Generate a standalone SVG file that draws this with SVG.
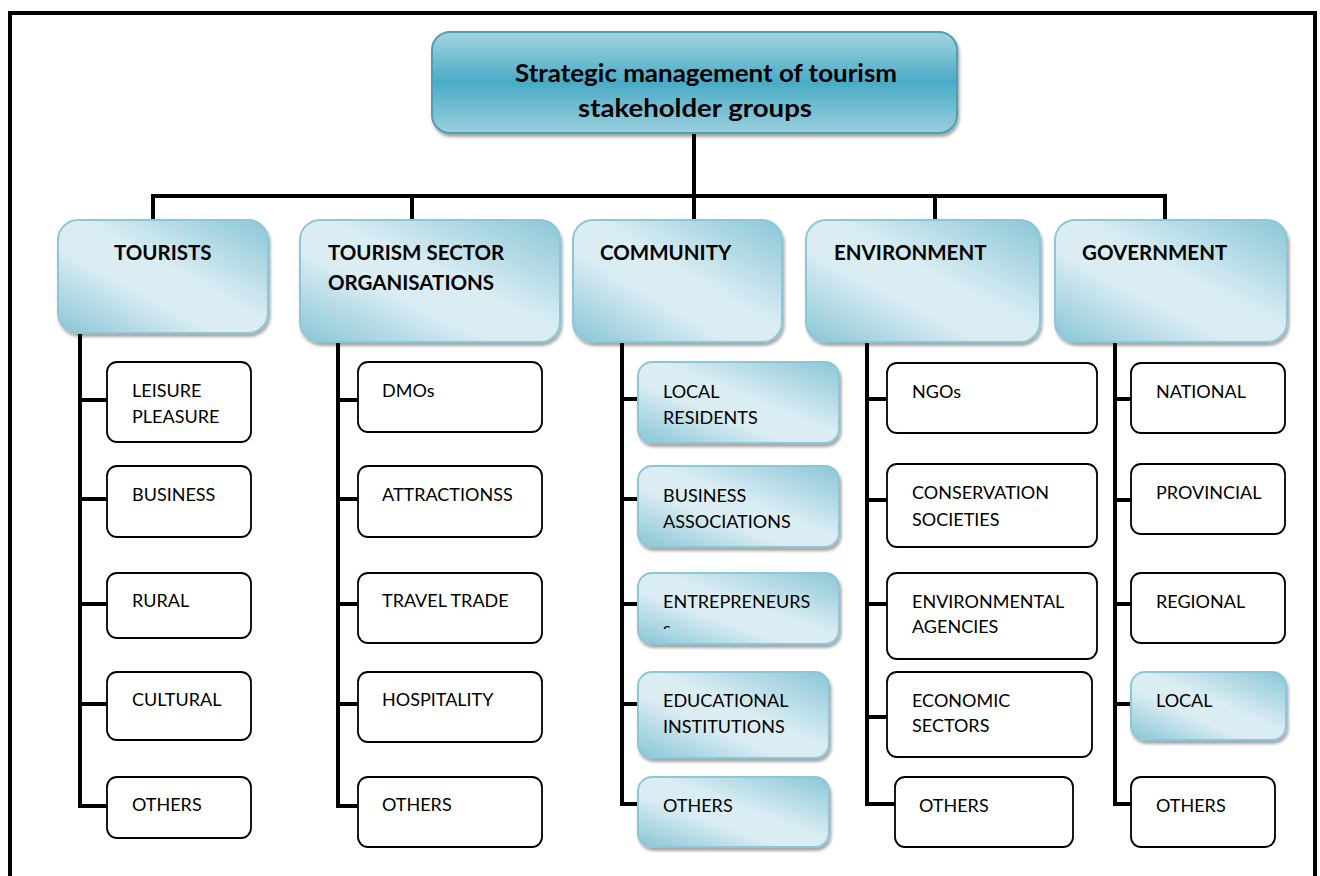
<svg xmlns="http://www.w3.org/2000/svg" width="1320" height="876" viewBox="0 0 1320 876">
  <style>
    .plain { fill: #ffffff; stroke: #000000; stroke-width: 1.8; }
    .soft { fill: url(#softTeal); stroke: #8dc6d6; stroke-width: 2; filter: url(#shade); }
    .root { fill: url(#rootTeal); stroke: #4c9fb7; stroke-width: 2; filter: url(#shade); }
    .wire { fill: none; stroke: #000000; stroke-width: 4; stroke-linecap: square; }
    .frame { fill: none; stroke: #000000; stroke-width: 4; }
    text { font-family: Lato, "Liberation Sans", Arial, sans-serif; fill: #000000; }
    .t-root { font-size: 25px; font-weight: 700; }
    .t-cat { font-size: 20.5px; font-weight: 700; }
    .t-item { font-size: 18px; }
  </style>
  <defs>
    <linearGradient id="rootTeal" x1="0" y1="0" x2="0" y2="1">
      <stop offset="0" stop-color="#a3d3e0"/>
      <stop offset="0.5" stop-color="#4aabc6"/>
      <stop offset="1" stop-color="#9ad0de"/>
    </linearGradient>
    <linearGradient id="softTeal" x1="1" y1="0" x2="0" y2="1">
      <stop offset="0" stop-color="#8ac6d7"/>
      <stop offset="0.45" stop-color="#daedf3"/>
      <stop offset="0.62" stop-color="#dbedf3"/>
      <stop offset="1" stop-color="#88c5d6"/>
    </linearGradient>
    <filter id="shade" x="-10%" y="-10%" width="125%" height="135%">
      <feDropShadow dx="1.5" dy="3" stdDeviation="1.8" flood-color="#000000" flood-opacity="0.35"/>
    </filter>
    <clipPath id="entClip">
      <rect x="638" y="573" width="201" height="56"/>
    </clipPath>
  </defs>

  <!-- outer frame, open at the bottom -->
  <path class="frame" d="M 10 880 V 13 H 1315 V 880"/>

  <!-- connectors -->
  <g id="connectors">
    <path class="wire" d="M 694 133 V 220"/>
    <path class="wire" d="M 153 220 V 196 H 1165 V 220"/>
    <path class="wire" d="M 412 196 V 220"/>
    <path class="wire" d="M 935 196 V 220"/>

    <path class="wire" d="M 80 333 V 806 H 107"/>
    <path class="wire" d="M 80 400 H 107 M 80 499 H 107 M 80 604 H 107 M 80 704 H 107"/>

    <path class="wire" d="M 338 342 V 806 H 358"/>
    <path class="wire" d="M 338 400 H 358 M 338 499 H 358 M 338 604 H 358 M 338 704 H 358"/>

    <path class="wire" d="M 622 342 V 804 H 638"/>
    <path class="wire" d="M 622 399 H 638 M 622 499 H 638 M 622 604 H 638 M 622 704 H 638"/>

    <path class="wire" d="M 867 342 V 804 H 895"/>
    <path class="wire" d="M 867 399 H 887 M 867 500 H 887 M 867 604 H 887 M 867 717 H 887"/>

    <path class="wire" d="M 1115 342 V 804 H 1131"/>
    <path class="wire" d="M 1115 399 H 1131 M 1115 500 H 1131 M 1115 604 H 1131 M 1115 704 H 1131"/>
  </g>

  <!-- root -->
  <g id="root">
    <rect class="root" x="432" y="32" width="525" height="101" rx="18"/>
    <text class="t-root" x="515" y="82" textLength="382" lengthAdjust="spacingAndGlyphs">Strategic management of tourism</text>
    <text class="t-root" x="578" y="117" textLength="234" lengthAdjust="spacingAndGlyphs">stakeholder groups</text>
  </g>

  <!-- stakeholder groups -->
  <g id="tourists">
    <rect class="soft" x="58" y="220" width="210" height="113" rx="20"/>
    <text class="t-cat" x="114" y="260">TOURISTS</text>
  </g>
  <g id="tourism-sector">
    <rect class="soft" x="300" y="220" width="260" height="122" rx="20"/>
    <text class="t-cat" x="328" y="260">TOURISM SECTOR</text>
    <text class="t-cat" x="328" y="290">ORGANISATIONS</text>
  </g>
  <g id="community">
    <rect class="soft" x="573" y="220" width="209" height="122" rx="20"/>
    <text class="t-cat" x="600" y="260">COMMUNITY</text>
  </g>
  <g id="environment">
    <rect class="soft" x="806" y="220" width="234" height="122" rx="20"/>
    <text class="t-cat" x="834" y="260">ENVIRONMENT</text>
  </g>
  <g id="government">
    <rect class="soft" x="1055" y="220" width="232" height="122" rx="20"/>
    <text class="t-cat" x="1082" y="260">GOVERNMENT</text>
  </g>

  <!-- tourists -->
  <g id="t-leisure">
    <rect class="plain" x="107" y="362" width="144" height="80" rx="10"/>
    <text class="t-item" x="132" y="397">LEISURE</text>
    <text class="t-item" x="132" y="423">PLEASURE</text>
  </g>
  <g id="t-business">
    <rect class="plain" x="107" y="466" width="144" height="71" rx="10"/>
    <text class="t-item" x="132" y="501">BUSINESS</text>
  </g>
  <g id="t-rural">
    <rect class="plain" x="107" y="573" width="144" height="65" rx="10"/>
    <text class="t-item" x="132" y="607">RURAL</text>
  </g>
  <g id="t-cultural">
    <rect class="plain" x="107" y="672" width="144" height="68" rx="10"/>
    <text class="t-item" x="132" y="706">CULTURAL</text>
  </g>
  <g id="t-others">
    <rect class="plain" x="107" y="777" width="144" height="61" rx="10"/>
    <text class="t-item" x="132" y="811">OTHERS</text>
  </g>

  <!-- tourism sector organisations -->
  <g id="s-dmos">
    <rect class="plain" x="358" y="362" width="184" height="70" rx="10"/>
    <text class="t-item" x="382" y="397">DMOs</text>
  </g>
  <g id="s-attractions">
    <rect class="plain" x="358" y="466" width="184" height="71" rx="10"/>
    <text class="t-item" x="382" y="501">ATTRACTIONSS</text>
  </g>
  <g id="s-travel">
    <rect class="plain" x="358" y="573" width="184" height="70" rx="10"/>
    <text class="t-item" x="382" y="607">TRAVEL TRADE</text>
  </g>
  <g id="s-hospitality">
    <rect class="plain" x="358" y="672" width="184" height="70" rx="10"/>
    <text class="t-item" x="382" y="706">HOSPITALITY</text>
  </g>
  <g id="s-others">
    <rect class="plain" x="358" y="777" width="184" height="70" rx="10"/>
    <text class="t-item" x="382" y="811">OTHERS</text>
  </g>

  <!-- community -->
  <g id="c-residents">
    <rect class="soft" x="638" y="362" width="201" height="81" rx="14"/>
    <text class="t-item" x="663" y="398">LOCAL</text>
    <text class="t-item" x="663" y="424">RESIDENTS</text>
  </g>
  <g id="c-associations">
    <rect class="soft" x="638" y="466" width="201" height="81" rx="14"/>
    <text class="t-item" x="663" y="502">BUSINESS</text>
    <text class="t-item" x="663" y="528">ASSOCIATIONS</text>
  </g>
  <g id="c-entrepreneurs">
    <rect class="soft" x="638" y="573" width="201" height="71" rx="14"/>
    <text class="t-item" x="663" y="608">ENTREPRENEURS</text>
    <text class="t-item" x="663" y="635" clip-path="url(#entClip)">s</text>
  </g>
  <g id="c-education">
    <rect class="soft" x="638" y="672" width="191" height="86" rx="14"/>
    <text class="t-item" x="663" y="707">EDUCATIONAL</text>
    <text class="t-item" x="663" y="733">INSTITUTIONS</text>
  </g>
  <g id="c-others">
    <rect class="soft" x="638" y="777" width="191" height="70" rx="14"/>
    <text class="t-item" x="663" y="812">OTHERS</text>
  </g>

  <!-- environment -->
  <g id="e-ngos">
    <rect class="plain" x="887" y="363" width="210" height="70" rx="10"/>
    <text class="t-item" x="912" y="398">NGOs</text>
  </g>
  <g id="e-conservation">
    <rect class="plain" x="887" y="464" width="210" height="83" rx="10"/>
    <text class="t-item" x="912" y="499">CONSERVATION</text>
    <text class="t-item" x="912" y="526">SOCIETIES</text>
  </g>
  <g id="e-agencies">
    <rect class="plain" x="887" y="573" width="210" height="86" rx="10"/>
    <text class="t-item" x="912" y="608">ENVIRONMENTAL</text>
    <text class="t-item" x="912" y="633">AGENCIES</text>
  </g>
  <g id="e-economic">
    <rect class="plain" x="887" y="672" width="205" height="85" rx="10"/>
    <text class="t-item" x="912" y="707">ECONOMIC</text>
    <text class="t-item" x="912" y="732">SECTORS</text>
  </g>
  <g id="e-others">
    <rect class="plain" x="895" y="777" width="178" height="70" rx="10"/>
    <text class="t-item" x="919" y="812">OTHERS</text>
  </g>

  <!-- government -->
  <g id="g-national">
    <rect class="plain" x="1131" y="363" width="154" height="70" rx="10"/>
    <text class="t-item" x="1156" y="398">NATIONAL</text>
  </g>
  <g id="g-provincial">
    <rect class="plain" x="1131" y="464" width="154" height="70" rx="10"/>
    <text class="t-item" x="1156" y="499">PROVINCIAL</text>
  </g>
  <g id="g-regional">
    <rect class="plain" x="1131" y="573" width="154" height="70" rx="10"/>
    <text class="t-item" x="1156" y="608">REGIONAL</text>
  </g>
  <g id="g-local">
    <rect class="soft" x="1131" y="672" width="155" height="68" rx="14"/>
    <text class="t-item" x="1156" y="707">LOCAL</text>
  </g>
  <g id="g-others">
    <rect class="plain" x="1131" y="777" width="144" height="70" rx="10"/>
    <text class="t-item" x="1156" y="812">OTHERS</text>
  </g>
</svg>
